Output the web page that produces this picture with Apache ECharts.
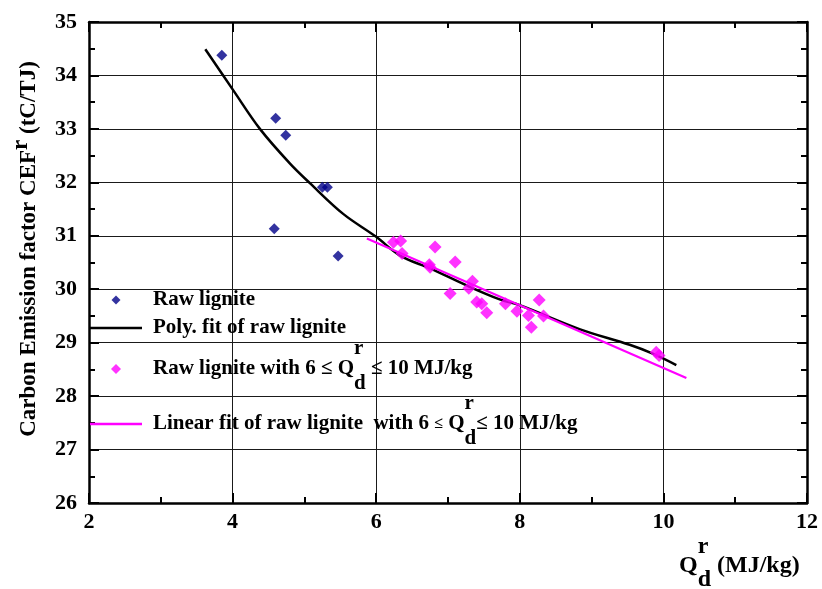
<!DOCTYPE html>
<html>
<head>
<meta charset="utf-8">
<script src="https://cdn.jsdelivr.net/npm/echarts@6/dist/echarts.min.js"></script>
<style>
  html, body { margin: 0; padding: 0; background: #fff; }
  #chart { width: 822px; height: 589px; }
</style>
</head>
<body>
<div id="chart"></div>
<script>
// Raw lignite samples: net calorific value Q (MJ/kg) vs carbon emission factor (tC/TJ)
const rawX = [3.85, 4.60, 4.74, 5.25, 5.32, 4.58, 5.47];
const rawY = [34.38, 33.20, 32.88, 31.91, 31.91, 31.13, 30.62];

// Samples with 6 <= Q <= 10 MJ/kg
const selX = [6.24, 6.34, 6.36, 6.82, 6.74, 6.75, 7.10, 7.03, 7.34, 7.29, 7.40, 7.47, 7.54, 7.80, 7.96, 8.12, 8.27, 8.16, 8.33, 9.90, 9.94];
const selY = [30.88, 30.90, 30.67, 30.79, 30.46, 30.41, 30.51, 29.92, 30.15, 30.02, 29.76, 29.73, 29.56, 29.73, 29.59, 29.51, 29.80, 29.29, 29.50, 28.82, 28.76];

// Polynomial fit of all raw lignite samples
const polyX = [3.62, 4.01, 4.38, 4.80, 5.08, 5.54, 6.00, 6.33, 6.75, 7.26, 7.72, 8.00, 8.84, 9.53, 9.86, 10.18];
const polyY = [34.49, 33.72, 33.00, 32.35, 31.98, 31.41, 30.98, 30.63, 30.39, 30.07, 29.81, 29.70, 29.25, 28.96, 28.79, 28.58];

// Linear fit of the 6-10 MJ/kg subset
const linX = [5.87, 10.32];
const linY = [30.95, 28.34];

// Axis ranges and tick spacing
const xMin = 2, xMax = 12, xStep = 2;
const yMin = 26, yMax = 35, yStep = 1;

const seriesNames = [
  'Raw lignite',
  'Poly. fit of raw lignite',
  'Raw lignite with 6 ≤ Qd ≤ 10 MJ/kg',
  'Linear fit of raw lignite with 6 ≤ Qd ≤ 10 MJ/kg'
];

const zip = (xs, ys) => xs.map((x, i) => [x, ys[i]]);

const FONT = 'Liberation Serif';
const BLUE = '#000088';
const MAGENTA = '#ff00ff';

const chart = echarts.init(document.getElementById('chart'), null, { renderer: 'canvas' });

const legendRich = {
  t: { fontFamily: FONT, fontWeight: 'bold', fontSize: 21, color: '#000' },
  s: { fontFamily: FONT, fontWeight: 'bold', fontSize: 16, color: '#000' },
  sup: { fontFamily: FONT, fontWeight: 'bold', fontSize: 21, color: '#000', padding: [0, 0, 40, 0], width: 0 },
  sub: { fontFamily: FONT, fontWeight: 'bold', fontSize: 21, color: '#000', padding: [30, 0, 0, 0] }
};

const legendText = {};
legendText[seriesNames[0]] = '{t|Raw lignite}';
legendText[seriesNames[1]] = '{t|Poly. fit of raw lignite}';
legendText[seriesNames[2]] = '{t|Raw lignite with 6 ≤ Q}{sup|r}{sub|d}{t| ≤ 10 MJ/kg}';
legendText[seriesNames[3]] = '{t|Linear fit of raw lignite  with 6 }{s|≤}{t| Q}{sup|r}{sub|d}{t|≤ 10 MJ/kg}';

// Each legend entry is its own component so the rows can sit at uneven heights
function makeLegend(name, top, isLine, iconSize) {
  return {
    data: [{ name: name, icon: isLine ? 'rect' : 'diamond' }],
    left: isLine ? 90 : 116 - iconSize / 2,
    top: top,
    orient: 'vertical',
    padding: 0,
    itemWidth: isLine ? 52 : iconSize,
    itemHeight: isLine ? 2.5 : iconSize,
    selectedMode: false,
    textStyle: {
      fontFamily: FONT, fontWeight: 'bold', fontSize: 21, color: '#000',
      padding: [0, 0, 0, isLine ? 6 : 32 - iconSize / 2], rich: legendRich
    },
    formatter: n => legendText[n]
  };
}

const axisLine = { show: true, onZero: false, lineStyle: { color: '#000', width: 2.5 } };
const tick = { show: true, inside: true, length: 10, lineStyle: { color: '#000', width: 2 } };
const minor = { show: true, splitNumber: 2, length: 6, lineStyle: { color: '#000', width: 2 } };
const labelStyle = { fontFamily: FONT, fontWeight: 'bold', fontSize: 22, color: '#000' };

const option = {
  animation: false,
  backgroundColor: '#fff',
  grid: { left: 89, right: 15, top: 22, bottom: 86, containLabel: false },
  xAxis: [
    {
      type: 'value', min: xMin, max: xMax, interval: xStep, position: 'bottom',
      axisLine: axisLine, axisTick: tick, minorTick: minor,
      axisLabel: Object.assign({ margin: 8 }, labelStyle),
      splitLine: { show: true, lineStyle: { color: '#1a1a1a', width: 1 } }
    },
    {
      type: 'value', min: xMin, max: xMax, interval: xStep, position: 'top',
      axisLine: axisLine, axisTick: tick, minorTick: minor,
      axisLabel: { show: false }, splitLine: { show: false }
    }
  ],
  yAxis: [
    {
      type: 'value', min: yMin, max: yMax, interval: yStep, position: 'left',
      axisLine: axisLine, axisTick: tick, minorTick: minor,
      axisLabel: Object.assign({ margin: 12 }, labelStyle),
      splitLine: { show: true, lineStyle: { color: '#1a1a1a', width: 1 } }
    },
    {
      type: 'value', min: yMin, max: yMax, interval: yStep, position: 'right',
      axisLine: axisLine, axisTick: tick, minorTick: minor,
      axisLabel: { show: false }, splitLine: { show: false }
    }
  ],
  legend: [
    makeLegend(seriesNames[0], 289.5, false, 9),
    makeLegend(seriesNames[1], 317.5, true, 0),
    makeLegend(seriesNames[2], 338.5, false, 10),
    makeLegend(seriesNames[3], 393.5, true, 0)
  ],
  series: [
    {
      name: seriesNames[1], type: 'line', data: zip(polyX, polyY),
      symbol: 'none', smooth: 0.35, z: 2,
      lineStyle: { color: '#000', width: 2.5 }, itemStyle: { color: '#000' }
    },
    {
      name: seriesNames[3], type: 'line', data: zip(linX, linY),
      symbol: 'none', z: 3,
      lineStyle: { color: MAGENTA, width: 2.2 }, itemStyle: { color: MAGENTA }
    },
    {
      name: seriesNames[0], type: 'scatter', data: zip(rawX, rawY),
      symbol: 'diamond', symbolSize: 11, z: 4,
      itemStyle: { color: BLUE }
    },
    {
      name: seriesNames[2], type: 'scatter', data: zip(selX, selY),
      symbol: 'diamond', symbolSize: 13, z: 5,
      itemStyle: { color: MAGENTA }
    }
  ],
  graphic: [
    {
      // y-axis title, rotated
      type: 'text', x: 29, y: 249, rotation: Math.PI / 2, z: 10,
      style: {
        text: '{m|Carbon Emission factor CEF}{u|r}{m| (tC/TJ)}',
        align: 'center', verticalAlign: 'middle', fill: '#000',
        font: 'bold 23px "' + FONT + '"',
        rich: {
          m: { font: 'bold 23px "' + FONT + '"', fill: '#000' },
          u: { font: 'bold 23px "' + FONT + '"', fill: '#000', padding: [0, 0, 16, 0] }
        }
      }
    },
    {
      // x-axis title
      type: 'text', x: 679, y: 566, z: 10,
      style: {
        text: '{m|Q}{u|r}{d|d}{m| (MJ/kg)}',
        align: 'left', verticalAlign: 'middle', fill: '#000',
        font: 'bold 24px "' + FONT + '"',
        rich: {
          m: { font: 'bold 24px "' + FONT + '"', fill: '#000' },
          u: { font: 'bold 24px "' + FONT + '"', fill: '#000', padding: [0, 0, 38, 0], width: 0 },
          d: { font: 'bold 24px "' + FONT + '"', fill: '#000', padding: [28, 0, 0, 0] }
        }
      }
    }
  ]
};

chart.setOption(option);
</script>
</body>
</html>
